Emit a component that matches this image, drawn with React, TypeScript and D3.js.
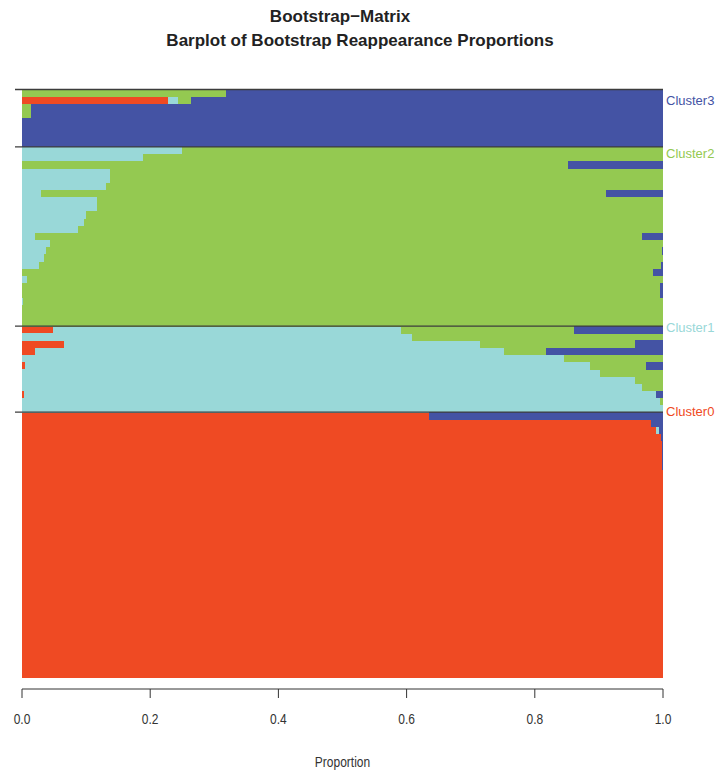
import React from "react";
import * as d3 from "d3";

const clusterNames = ["Cluster0", "Cluster1", "Cluster2", "Cluster3"];
const clusterColors = ["#EF4A23", "#99D8D8", "#94C951", "#4453A4"];
const tickValues = [0, 0.2, 0.4, 0.6, 0.8, 1.0];
const titleLines = ["Bootstrap\u2212Matrix", "Barplot of Bootstrap Reappearance Proportions"];
const xLabel = "Proportion";

// rows: [Cluster0, Cluster1, Cluster2, Cluster3] proportions
const cluster3Rows = [
  [0, 0, 0.318, 0.682],
  [0.228, 0.015, 0.021, 0.736],
  [0, 0, 0.014, 0.986],
  [0, 0, 0.014, 0.986],
  [0, 0, 0, 1],
  [0, 0, 0, 1],
  [0, 0, 0, 1],
  [0, 0, 0, 1],
];
const cluster2Rows = [
  [0, 0.249, 0.751, 0],
  [0, 0.188, 0.812, 0],
  [0, 0, 0.852, 0.148],
  [0, 0.138, 0.862, 0],
  [0, 0.138, 0.862, 0],
  [0, 0.131, 0.869, 0],
  [0, 0.03, 0.881, 0.089],
  [0, 0.117, 0.883, 0],
  [0, 0.117, 0.883, 0],
  [0, 0.1, 0.9, 0],
  [0, 0.096, 0.904, 0],
  [0, 0.087, 0.913, 0],
  [0, 0.02, 0.948, 0.032],
  [0, 0.043, 0.957, 0],
  [0, 0.038, 0.96, 0.002],
  [0, 0.034, 0.966, 0],
  [0, 0.027, 0.97, 0.003],
  [0, 0, 0.984, 0.016],
  [0, 0.008, 0.992, 0],
  [0, 0, 0.995, 0.005],
  [0, 0, 0.995, 0.005],
  [0, 0.002, 0.998, 0],
  [0, 0, 1, 0],
  [0, 0, 1, 0],
  [0, 0, 1, 0],
];
const cluster1Rows = [
  [0.048, 0.543, 0.27, 0.139],
  [0, 0.608, 0.392, 0],
  [0.065, 0.649, 0.242, 0.044],
  [0.02, 0.732, 0.066, 0.182],
  [0, 0.846, 0.154, 0],
  [0.004, 0.882, 0.087, 0.027],
  [0, 0.902, 0.098, 0],
  [0, 0.956, 0.044, 0],
  [0, 0.968, 0.032, 0],
  [0.003, 0.986, 0, 0.011],
  [0, 0.995, 0.005, 0],
  [0, 1, 0, 0],
];
const cluster0Rows = [
  [0.635, 0, 0, 0.365],
  [0.981, 0, 0, 0.019],
  [0.989, 0.005, 0, 0.006],
  [0.997, 0, 0, 0.003],
  [0.998, 0, 0, 0.002],
  [0.998, 0, 0, 0.002],
  [0.999, 0, 0, 0.001],
  [0.999, 0, 0, 0.001],
  ...Array.from({ length: 29 }, () => [1, 0, 0, 0]),
];

// top-to-bottom order of groups
const groups = [
  { cluster: 3, rows: cluster3Rows, labelDy: 15.5 },
  { cluster: 2, rows: cluster2Rows, labelDy: 11 },
  { cluster: 1, rows: cluster1Rows, labelDy: 6 },
  { cluster: 0, rows: cluster0Rows, labelDy: 3.5 },
];

const narrowFont = "'Liberation Sans Narrow', 'Arial Narrow', 'Liberation Sans', sans-serif";

export default function App() {
  const W = 718, H = 772;
  const x = d3.scaleLinear().domain([0, 1]).range([22, 663]);

  const allRows: { id: string; vals: number[] }[] = [];
  const groupStarts: { cluster: number; id: string; labelDy: number }[] = [];
  groups.forEach((g) => {
    g.rows.forEach((r, i) => {
      const id = `c${g.cluster}_${i}`;
      if (i === 0) groupStarts.push({ cluster: g.cluster, id, labelDy: g.labelDy });
      allRows.push({ id, vals: r });
    });
  });

  const y = d3.scaleBand().domain(allRows.map((r) => r.id)).range([89.5, 677.5]).padding(0);

  const stack = d3
    .stack<{ id: string; vals: number[] }, number>()
    .keys([0, 1, 2, 3])
    .value((d, k) => d.vals[k]);
  const series = stack(allRows);

  const axisY = 689;

  return (
    <svg width={W} height={H} style={{ position: "absolute", left: 0, top: 0, background: "#fff" }}>
      <rect x={0} y={0} width={W} height={H} fill="#fff" />
      <g shapeRendering="crispEdges">
        {series.map((s, k) =>
          s.map((d, i) => {
            const w = x(d[1]) - x(d[0]);
            if (w <= 0) return null;
            return (
              <rect
                key={`${k}-${i}`}
                x={x(d[0])}
                y={y(allRows[i].id)}
                width={w}
                height={y.bandwidth() + 0.4}
                fill={clusterColors[k]}
              />
            );
          })
        )}
      </g>
      {groupStarts.map((g) => (
        <line
          key={g.id}
          x1={15}
          x2={663}
          y1={y(g.id)}
          y2={y(g.id)}
          stroke="#3c3c3c"
          strokeWidth={1.3}
        />
      ))}
      {groupStarts.map((g) => (
        <text
          key={"l" + g.id}
          x={666}
          y={(y(g.id) as number) + g.labelDy}
          fill={clusterColors[g.cluster]}
          fontFamily="'Liberation Sans', Arial, sans-serif"
          fontSize={13}
        >
          {clusterNames[g.cluster]}
        </text>
      ))}
      <text
        x={340}
        y={22}
        textAnchor="middle"
        fontFamily="'Liberation Sans', Arial, sans-serif"
        fontWeight="bold"
        fontSize={17}
        fill="#222"
      >
        {titleLines[0]}
      </text>
      <text
        x={360}
        y={46}
        textAnchor="middle"
        fontFamily="'Liberation Sans', Arial, sans-serif"
        fontWeight="bold"
        fontSize={17}
        fill="#222"
      >
        {titleLines[1]}
      </text>
      <line x1={x(0)} x2={x(1)} y1={axisY} y2={axisY} stroke="#333" strokeWidth={1} />
      {tickValues.map((t) => (
        <g key={t}>
          <line x1={x(t)} x2={x(t)} y1={axisY} y2={axisY + 9} stroke="#333" strokeWidth={1} />
          <text
            transform={`translate(${x(t)},${axisY + 35}) scale(0.8,1)`}
            textAnchor="middle"
            fontFamily={narrowFont}
            fontSize={15}
            fill="#333"
          >
            {d3.format(".1f")(t)}
          </text>
        </g>
      ))}
      <text
        transform={`translate(${(x(0) + x(1)) / 2},767) scale(0.8,1)`}
        textAnchor="middle"
        fontFamily={narrowFont}
        fontSize={15}
        fill="#333"
      >
        {xLabel}
      </text>
    </svg>
  );
}
